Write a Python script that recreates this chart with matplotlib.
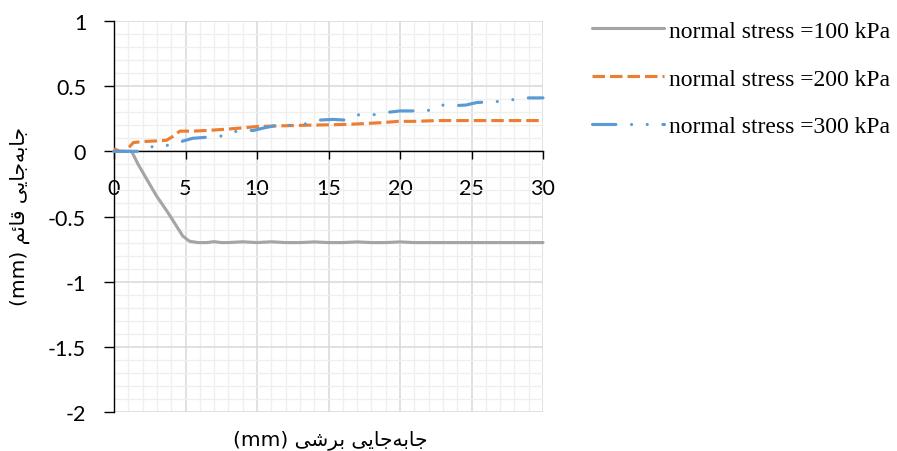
import matplotlib
matplotlib.use("Agg")
import matplotlib.pyplot as plt
from matplotlib.ticker import MultipleLocator

# ---- data ----
gray_x = [0, 0.5, 1.0, 1.23, 1.69, 2.27, 2.96, 3.77, 4.35, 4.81, 5.28, 5.86, 6.5, 7, 7.5, 8, 9, 10,
          11, 12, 13, 14, 15, 16, 17, 18, 19, 20, 21, 22, 23, 24, 25, 26, 27, 28, 29, 30]
gray_y = [0, 0, 0, 0, -0.10, -0.21, -0.34, -0.47, -0.57, -0.65, -0.69, -0.70, -0.70, -0.693, -0.70, -0.70,
          -0.694, -0.70, -0.694, -0.70, -0.70, -0.695, -0.70, -0.70, -0.695, -0.70, -0.70, -0.695, -0.70,
          -0.70, -0.70, -0.70, -0.70, -0.70, -0.70, -0.70, -0.70, -0.70]

orange_x = [0, 0.4, 0.8, 1.35, 2, 3, 3.68, 4.2, 4.6, 5.5, 6.5, 7.9, 9, 10, 11.5, 13.3, 15.7, 17,
            18.7, 19.9, 21, 22.6, 25, 27.5, 30]
orange_y = [0.02, 0.0, 0.0, 0.067, 0.075, 0.08, 0.085, 0.12, 0.155, 0.155, 0.16, 0.17, 0.18, 0.19,
            0.195, 0.20, 0.205, 0.21, 0.22, 0.23, 0.23, 0.236, 0.236, 0.236, 0.236]

blue_x = [0, 1, 2.0, 2.87, 3.92, 4.85, 5.5, 6.71, 7.76, 8.7, 9.74, 10.5, 11.4, 12.4, 13.36, 14.4,
          15.3, 16.15, 17.1, 18.1, 19.2, 20.0, 20.9, 21.9, 22.8, 23.7, 24.6, 25.4, 26.6, 27.6, 28.5, 30]
blue_y = [0, 0, 0, 0.046, 0.046, 0.08, 0.10, 0.11, 0.12, 0.16, 0.16, 0.18, 0.20, 0.20, 0.21, 0.24,
          0.245, 0.24, 0.28, 0.28, 0.30, 0.31, 0.31, 0.31, 0.356, 0.35, 0.355, 0.375, 0.38, 0.39, 0.41, 0.41]

labels = ["normal stress =100 kPa", "normal stress =200 kPa", "normal stress =300 kPa"]
x_ticks = [0, 5, 10, 15, 20, 25, 30]
y_ticks = [-2, -1.5, -1, -0.5, 0, 0.5, 1]
y_tick_labels = ["-2", "-1.5", "-1", "-0.5", "0", "0.5", "1"]

# Persian labels in visual (left-to-right) order with presentation forms
w_jabejayi = "\uFEF0\uFEF3\uFE8E\uFE9F\uFEEA\uFE91\uFE8E\uFE9F"
w_barshi = "\uFEF0\uFEB7\uFEAE\uFE91"
w_qaem = "\uFEE2\uFE8B\uFE8E\uFED7"
x_label = "(mm) " + w_barshi + " " + w_jabejayi
y_label = "(mm) " + w_qaem + " " + w_jabejayi

# ---- figure ----
fig = plt.figure(figsize=(8.97, 4.52), dpi=100)
ax = fig.add_axes([114/897, 1-413/452, (543-114)/897, (413-22)/452])

ax.set_xlim(0, 30)
ax.set_ylim(-2, 1)
ax.xaxis.set_major_locator(MultipleLocator(5))
ax.xaxis.set_minor_locator(MultipleLocator(1))
ax.yaxis.set_major_locator(MultipleLocator(0.5))
ax.yaxis.set_minor_locator(MultipleLocator(0.1))
ax.grid(which="major", color="#d9d9d9", lw=1.1, zorder=0)
ax.grid(which="minor", color="#efefef", lw=0.9, zorder=0)
ax.set_axisbelow(True)

for s in ["top", "right"]:
    ax.spines[s].set_visible(False)
ax.spines["bottom"].set_position(("data", 0))
for s in ["bottom", "left"]:
    ax.spines[s].set_color("#000000")
    ax.spines[s].set_linewidth(1.0)

ax.set_xticks(x_ticks)
ax.set_xticklabels([str(t) for t in x_ticks])
ax.set_yticks(y_ticks)
ax.set_yticklabels(y_tick_labels)
ax.tick_params(axis="x", which="major", direction="out", length=6, width=1, pad=13,
               labelsize=15.5, colors="#000000")
ax.tick_params(axis="y", which="major", direction="out", length=7, width=1, pad=13,
               labelsize=15.5, colors="#000000")
ax.tick_params(which="minor", length=0)
for lab in ax.get_xticklabels() + ax.get_yticklabels():
    lab.set_fontfamily("Lato")

l1, = ax.plot(gray_x, gray_y, color="#a5a5a5", lw=2.25, solid_capstyle="round", zorder=3, clip_on=False)
l2, = ax.plot(orange_x, orange_y, color="#ed7d31", lw=2.25, linestyle=(0, (4, 1.6)), zorder=4, clip_on=False)
l3, = ax.plot(blue_x, blue_y, color="#5b9bd5", lw=2.25, linestyle=(0, (7.5, 5, 0.01, 5, 0.01, 5)),
              dash_capstyle="round", zorder=5, clip_on=False)

fig.text(330/897, 1-440/452, x_label, ha="center", va="center", fontsize=14.5, family="DejaVu Sans")
fig.text(20/897, 1-217/452, y_label, ha="center", va="center", rotation=90, fontsize=14.5,
         family="DejaVu Sans")

leg = fig.legend([l1, l2, l3], labels, loc="upper left", bbox_to_anchor=(592/897, 1-21/452),
                 frameon=False, handlelength=3.05, handletextpad=0.2, labelspacing=1.12,
                 borderpad=0, borderaxespad=0, prop={"family": "Liberation Serif", "size": 17})

fig.savefig("out.png", dpi=100)
